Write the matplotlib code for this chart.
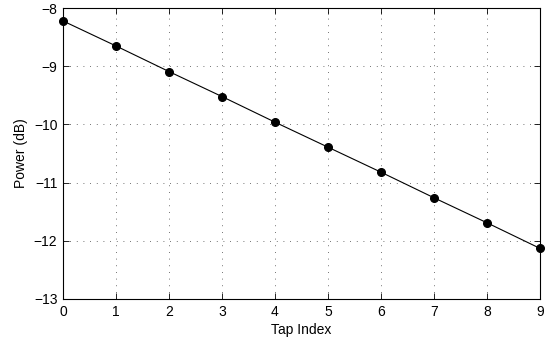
import matplotlib
matplotlib.use("Agg")
import matplotlib.pyplot as plt

plt.rcParams["font.family"] = ["Liberation Sans", "DejaVu Sans"]

tap_index = [0, 1, 2, 3, 4, 5, 6, 7, 8, 9]
power_db = [-8.22, -8.65, -9.09, -9.52, -9.96, -10.39, -10.82, -11.26, -11.69, -12.13]

fig = plt.figure(figsize=(5.5, 3.39), dpi=100)
ax = fig.add_axes([0.1145, 0.118, 0.8673, 0.858])

ax.plot(tap_index, power_db, color="black", linewidth=0.8,
        marker="o", markersize=5.5, clip_on=False, zorder=3)

ax.set_xlim(0, 9)
ax.set_ylim(-13, -8)
ax.set_xticks(range(0, 10))
ax.set_yticks([-13, -12, -11, -10, -9, -8])
ax.set_yticklabels(["\u221213", "\u221212", "\u221211", "\u221210", "\u22129", "\u22128"])

# matlab style dotted grid
ax.grid(True, linestyle=(0, (1, 7)), color="#444444", linewidth=0.6)
ax.tick_params(direction="in", top=True, right=True, labelsize=10, length=4, width=0.6, pad=4)
for s in ax.spines.values():
    s.set_linewidth(0.8)

ax.set_xlabel("Tap Index", fontsize=10, labelpad=3)
ax.set_ylabel("Power (dB)", fontsize=10, labelpad=4)

fig.savefig("out.png", dpi=100)
plt.close(fig)
